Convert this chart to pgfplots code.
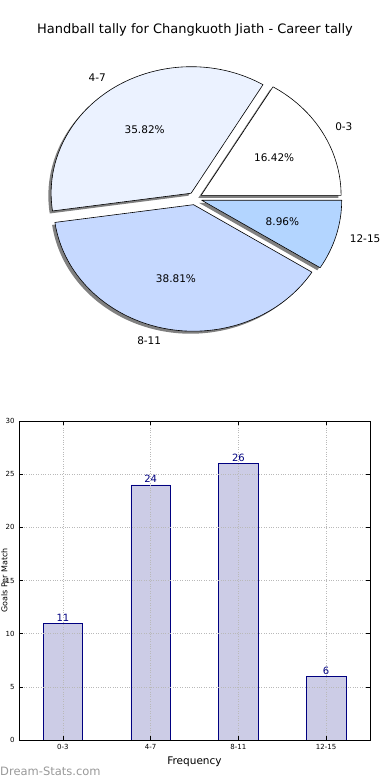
\documentclass[border=0pt]{standalone}
\usepackage{fontspec}
\setmainfont{DejaVu Sans}
\usepackage{pgfplots}
\pgfplotsset{compat=1.18}
\definecolor{c03}{RGB}{255,255,255}
\definecolor{c47}{RGB}{235,242,255}
\definecolor{c811}{RGB}{198,217,255}
\definecolor{c1215}{RGB}{179,213,255}
\definecolor{barfill}{RGB}{204,204,230}
\definecolor{navy}{RGB}{0,0,128}
\definecolor{shadowc}{RGB}{128,128,128}
\begin{document}
\begin{tikzpicture}
\useasboundingbox (0,0) rectangle (390pt,780pt);
% title
\node[font=\fontsize{13}{15}\selectfont] at (195pt,750pt) {Handball tally for Changkuoth Jiath - Career tally};
% ---------------- pie -----------------
% counts: 0-3: 11, 4-7: 24, 8-11: 26, 12-15: 6 (total 67)
\begin{axis}[at={(195pt,581.5pt)}, anchor=center, scale only axis,
  width=392pt, height=354.2pt, xmin=-1.4, xmax=1.4, ymin=-1.4, ymax=1.4,
  hide axis, clip=false]
% shadows (offset -0.02,-0.02 in data units)
\fill[shadowc] (axis cs:0.0235,0.0047) -- ++(0:140pt and 126.5pt) arc[start angle=0, end angle=59.104, x radius=140pt, y radius=126.5pt] -- cycle;
\fill[shadowc] (axis cs:-0.0477,0.0217) -- ++(59.104:140pt and 126.5pt) arc[start angle=59.104, end angle=188.060, x radius=140pt, y radius=126.5pt] -- cycle;
\fill[shadowc] (axis cs:-0.0305,-0.0689) -- ++(188.060:140pt and 126.5pt) arc[start angle=188.060, end angle=327.761, x radius=140pt, y radius=126.5pt] -- cycle;
\fill[shadowc] (axis cs:0.0280,-0.0339) -- ++(327.761:140pt and 126.5pt) arc[start angle=327.761, end angle=360, x radius=140pt, y radius=126.5pt] -- cycle;
% wedges
\filldraw[fill=c03, draw=black, line width=0.6pt, line join=round] (axis cs:0.0435,0.0247) -- ++(0:140pt and 126.5pt) arc[start angle=0, end angle=59.104, x radius=140pt, y radius=126.5pt] -- cycle;
\filldraw[fill=c47, draw=black, line width=0.6pt, line join=round] (axis cs:-0.0277,0.0417) -- ++(59.104:140pt and 126.5pt) arc[start angle=59.104, end angle=188.060, x radius=140pt, y radius=126.5pt] -- cycle;
\filldraw[fill=c811, draw=black, line width=0.6pt, line join=round] (axis cs:-0.0105,-0.0489) -- ++(188.060:140pt and 126.5pt) arc[start angle=188.060, end angle=327.761, x radius=140pt, y radius=126.5pt] -- cycle;
\filldraw[fill=c1215, draw=black, line width=0.6pt, line join=round] (axis cs:0.0480,-0.0139) -- ++(327.761:140pt and 126.5pt) arc[start angle=327.761, end angle=360, x radius=140pt, y radius=126.5pt] -- cycle;
% percentages
\node[font=\fontsize{10.5}{12}\selectfont] at (axis cs:0.5654,0.3206) {16.42\%};
\node[font=\fontsize{10.5}{12}\selectfont] at (axis cs:-0.3596,0.5416) {35.82\%};
\node[font=\fontsize{10.5}{12}\selectfont] at (axis cs:-0.1361,-0.6356) {38.81\%};
\node[font=\fontsize{10.5}{12}\selectfont] at (axis cs:0.6244,-0.1805) {8.96\%};
% labels
\node[font=\fontsize{10.5}{12}\selectfont, anchor=west, inner sep=0pt] at (axis cs:1.0004,0.5672) {0-3};
\node[font=\fontsize{10.5}{12}\selectfont, anchor=east, inner sep=0pt] at (axis cs:-0.6361,0.9581) {4-7};
\node[font=\fontsize{10.5}{12}\selectfont, anchor=east, inner sep=0pt] at (axis cs:-0.2408,-1.1245) {8-11};
\node[font=\fontsize{10.5}{12}\selectfont, anchor=west, inner sep=0pt] at (axis cs:1.1048,-0.3194) {12-15};
\end{axis}
% ---------------- bars -----------------
\begin{axis}[at={(19pt,40pt)}, anchor=south west, scale only axis,
  width=351pt, height=319pt,
  xmin=-0.5, xmax=3.5, ymin=0, ymax=30,
  xtick={0,1,2,3}, xticklabels={0-3,4-7,8-11,12-15},
  ytick={0,5,10,15,20,25,30},
  tick align=inside, tick pos=both, major tick length=4pt,
  tick style={black, line width=0.5pt},
  ticklabel style={font=\fontsize{7}{8}\selectfont},
  /pgf/number format/assume math mode=true,
  grid=major, grid style={dotted, gray!55, line width=0.6pt},
  axis on top, axis line style={black, line width=0.8pt},
  xlabel={Frequency}, ylabel={Goals Per Match},
  every axis x label/.style={at={(rel axis cs:0.5,0)}, anchor=north, yshift=-13pt, font=\fontsize{10.5}{12}\selectfont},
  every axis y label/.style={at={(rel axis cs:0,0.5)}, anchor=center, rotate=90, yshift=14.5pt, inner sep=0pt, font=\fontsize{8}{9}\selectfont},
  xticklabel style={yshift=-1pt}, yticklabel style={xshift=-1pt}]
\addplot[ybar, bar width=0.45, fill=barfill, draw=navy, line width=0.6pt,
  nodes near coords, nodes near coords style={font=\fontsize{10}{11}\selectfont, text=navy, inner sep=1.5pt}]
  coordinates {(0,11) (1,24) (2,26) (3,6)};
\end{axis}
\node[font=\fontsize{11.5}{12}\selectfont, text=gray!80, anchor=west, inner sep=0pt] at (0pt,9pt) {Dream-Stats.com};
\end{tikzpicture}
\end{document}
